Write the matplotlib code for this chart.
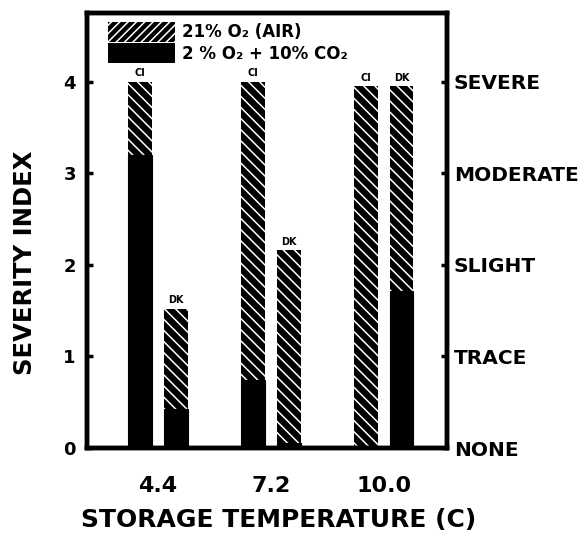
import matplotlib
matplotlib.use("Agg")
import matplotlib.pyplot as plt
from matplotlib.patches import Patch
import numpy as np

temps = ['4.4', '7.2', '10.0']
disorders = ['CI', 'DK']
air_ci = [4.0, 4.0, 3.95]
air_dk = [1.52, 2.16, 3.95]
ca_ci = [3.2, 0.74, 0.0]
ca_dk = [0.43, 0.05, 1.72]
severity_ticks = [0, 1, 2, 3, 4]
severity_labels = ['NONE', 'TRACE', 'SLIGHT', 'MODERATE', 'SEVERE']
legend_labels = ['21% O\u2082 (AIR)', '2 % O\u2082 + 10% CO\u2082']

plt.rcParams['font.family'] = ['DejaVu Sans']
plt.rcParams['font.weight'] = 'bold'
plt.rcParams['hatch.linewidth'] = 1.1
plt.rcParams['hatch.color'] = 'white'

fig = plt.figure(figsize=(5.88, 5.35), dpi=100)
ax = fig.add_axes([0.148, 0.1626, 0.612, 0.813])

x = np.arange(len(temps))
off = 0.158
w = 0.21
for dx, air, ca, name in [(-off, air_ci, ca_ci, 'CI'), (off, air_dk, ca_dk, 'DK')]:
    ax.bar(x + dx, air, width=w, color='black', edgecolor='white', linewidth=0, hatch='\\\\\\')
    ax.bar(x + dx, ca, width=w, color='black', edgecolor='black', linewidth=0.8)
    for xi, a in zip(x + dx, air):
        ax.text(xi, a + 0.04, name, ha='center', va='bottom', fontsize=7, fontweight='bold')

ax.set_xlim(-0.63, 2.56)
ax.set_ylim(0, 4.75)
ax.set_xticks(x)
ax.set_xticklabels(temps, fontsize=16, fontweight='bold')
ax.set_yticks(severity_ticks)
ax.set_yticklabels([str(t) for t in severity_ticks], fontsize=13, fontweight='bold')
ax.tick_params(axis='x', length=0, pad=20)
ax.tick_params(axis='y', direction='in', length=4, width=2.5, pad=8)
for s in ax.spines.values():
    s.set_linewidth(3.2)

ax.set_xlabel('STORAGE TEMPERATURE (C)', fontsize=18, fontweight='bold')
ax.set_ylabel('SEVERITY INDEX', fontsize=17.5, fontweight='bold')
ax.xaxis.set_label_coords(0.533, -0.166)
ax.xaxis.label.set_va('center')
ax.yaxis.set_label_coords(-0.172, 0.425)
ax.yaxis.label.set_va('center')

ax2 = ax.twinx()
ax2.set_ylim(ax.get_ylim())
ax2.set_yticks(severity_ticks)
ax2.set_yticklabels(severity_labels, fontsize=14.5, fontweight='bold')
ax2.tick_params(axis='y', direction='in', length=4, width=2.5, pad=5)
for s in ax2.spines.values():
    s.set_linewidth(3.2)

handles = [Patch(facecolor='black', edgecolor='white', linewidth=0, hatch='////'),
           Patch(facecolor='black', linewidth=0)]
leg = ax.legend(handles, legend_labels, loc='upper left', bbox_to_anchor=(0.04, 0.995),
                frameon=False, fontsize=12, handlelength=4.0, handleheight=1.45,
                labelspacing=0.1, handletextpad=0.45, borderaxespad=0)
for t in leg.get_texts():
    t.set_fontweight('bold')

fig.savefig('out.png', dpi=100)
